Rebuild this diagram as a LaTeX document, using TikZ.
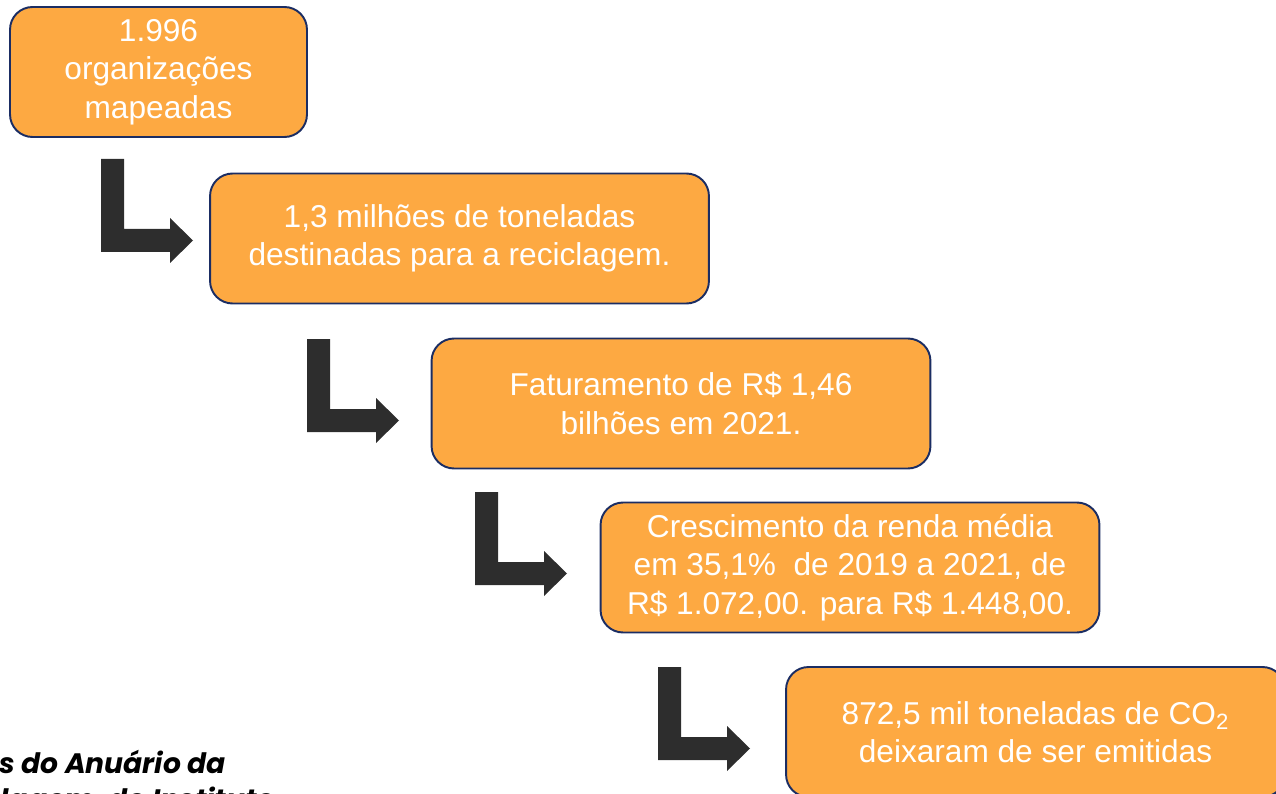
\documentclass[tikz,border=0pt]{standalone}
\usepackage{fontspec}
\setmainfont{Liberation Sans}
\newfontfamily\notefont{Poppins}
\usetikzlibrary{positioning}
\definecolor{boxfill}{HTML}{FDA942}
\definecolor{boxline}{HTML}{1B2D63}
\definecolor{arrowgray}{HTML}{2D2D2D}
\tikzstyle{databox}=[draw=boxline, fill=boxfill, line width=1.1pt, rounded corners=0.45cm, minimum width=9.98cm, minimum height=2.6cm, inner sep=0pt, align=center, text=white, font=\fontsize{18}{21.8}\selectfont]
\tikzstyle{note}=[anchor=base east, inner sep=0pt, font=\notefont\bfseries\itshape\fontsize{16}{20}\selectfont]
\tikzset{bentarrow/.pic={
  \fill[arrowgray] (0,0) -- (23,0) -- (23,70) -- (69,70) -- (69,59) -- (92,81.5)
    -- (69,104) -- (69,93) -- (0,93) -- cycle;}}

\begin{document}
\begin{tikzpicture}[x=0.02cm, y=-0.02cm]
  \useasboundingbox (0,0) rectangle (1276,794);
  \clip (0,0) rectangle (1276,794);
  \node[databox, minimum width=5.94cm] (org) at (158.5,72) {1.996\\organizações\\mapeadas};
  \node[databox] (ton) at (459.5,238.5) {1,3 milhões de toneladas\\destinadas para a reciclagem.};
  \node[databox] (fat) at (681,403.5) {Faturamento de R\$ 1,46\\bilhões em 2021.};
  \node[databox] (renda) at (850,567.5) {Crescimento da renda média\\em 35,1\%\ \ de 2019 a 2021, de\\R\$ 1.072,00. para R\$ 1.448,00.};
  \node[databox] (co2) at (1035.5,732) {872,5 mil toneladas de CO\textsubscript{2}\\deixaram de ser emitidas};
  % bent arrows between the steps
  \pic at (101,159) {bentarrow};
  \pic at (307,339) {bentarrow};
  \pic at (475,492) {bentarrow};
  \pic at (658,667) {bentarrow};
  % source note, cut by the frame
  \node[note] (src1) at (226,773) {Dados do Anuário da};
  \node[note] (src2) at (275,809) {Reciclagem, do Instituto};
\end{tikzpicture}
\end{document}
